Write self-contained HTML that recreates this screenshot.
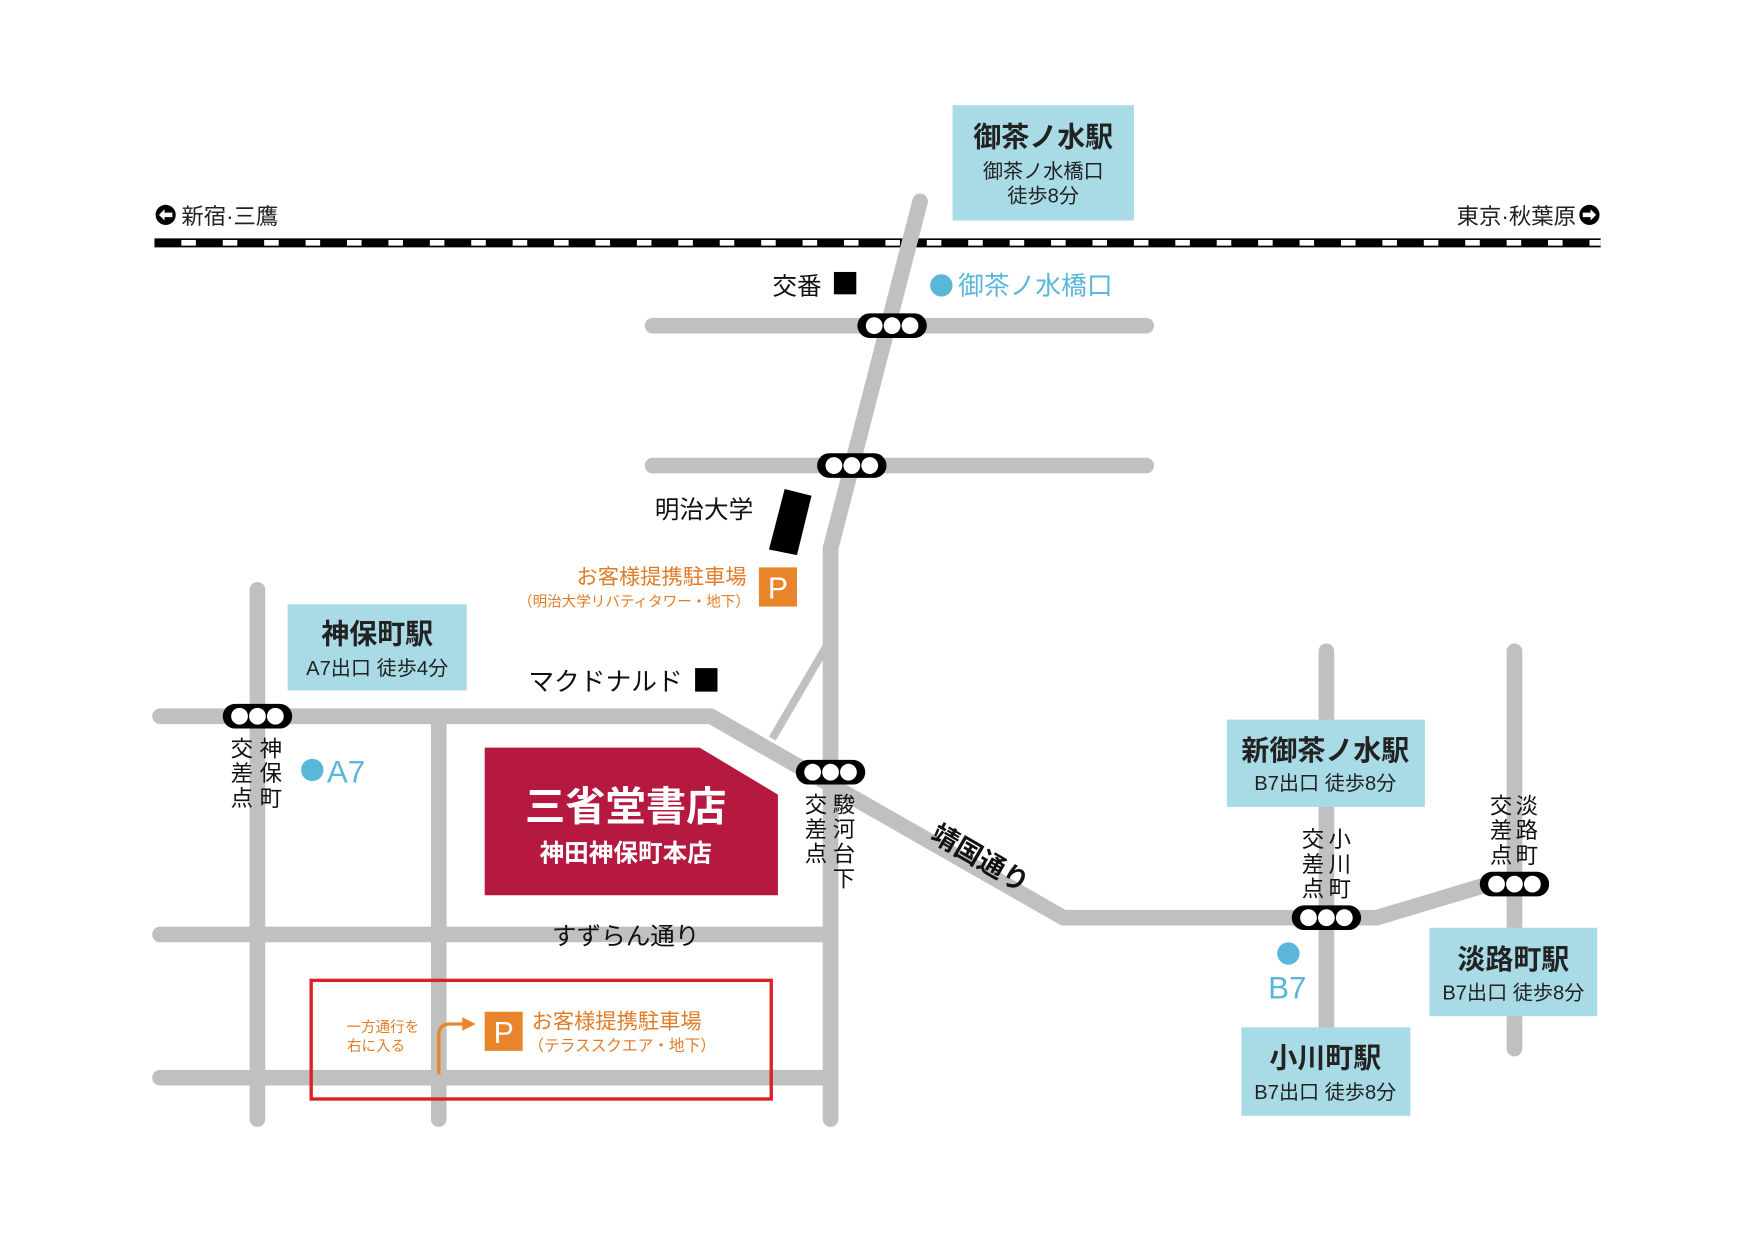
<!DOCTYPE html>
<html><head><meta charset="utf-8"><style>
html,body{margin:0;padding:0;background:#fff;}
svg{display:block;}
text{font-family:"Liberation Sans","Noto Sans CJK JP",sans-serif;}
.b{font-weight:bold;}
</style></head><body>
<svg width="1754" height="1240" viewBox="0 0 1567 1108" preserveAspectRatio="none" xmlns="http://www.w3.org/2000/svg">
<rect width="1567" height="1108" fill="#fff"/>
<!-- railway -->
<line x1="138" y1="217" x2="1430" y2="217" stroke="#000" stroke-width="8"/>
<line x1="138" y1="217" x2="1430" y2="217" stroke="#fff" stroke-width="5" stroke-dasharray="13 24" stroke-dashoffset="-24"/>
<!-- roads -->
<g stroke="#c0c0c0" stroke-width="14" stroke-linecap="round" fill="none">
<polyline points="822,180 742,490 742,1000"/>
<line x1="583" y1="291" x2="1024" y2="291"/>
<line x1="583" y1="416" x2="1024" y2="416"/>
<line x1="230" y1="527" x2="230" y2="1000"/>
<line x1="392" y1="640" x2="392" y2="1000"/>
<polyline points="143,640 635,640 950,820 1230,820 1330,790"/>
<line x1="143" y1="835" x2="742" y2="835"/>
<line x1="143" y1="963" x2="742" y2="963"/>
<line x1="1185" y1="582" x2="1185" y2="935"/>
<line x1="1353" y1="582" x2="1353" y2="937"/>
</g>
<line x1="690" y1="660" x2="738" y2="578" stroke="#c0c0c0" stroke-width="7"/>
<g fill="#000">
<rect x="766" y="280" width="62" height="22" rx="11"/>
<rect x="730" y="405" width="62" height="22" rx="11"/>
<rect x="199" y="629" width="62" height="22" rx="11"/>
<rect x="711" y="679" width="62" height="22" rx="11"/>
<rect x="1154" y="809" width="62" height="22" rx="11"/>
<rect x="1322" y="779" width="62" height="22" rx="11"/>
</g>
<g fill="#fff">
<circle cx="781" cy="291" r="7.5"/><circle cx="797" cy="291" r="7.5"/><circle cx="813" cy="291" r="7.5"/>
<circle cx="745" cy="416" r="7.5"/><circle cx="761" cy="416" r="7.5"/><circle cx="777" cy="416" r="7.5"/>
<circle cx="214" cy="640" r="7.5"/><circle cx="230" cy="640" r="7.5"/><circle cx="246" cy="640" r="7.5"/>
<circle cx="726" cy="690" r="7.5"/><circle cx="742" cy="690" r="7.5"/><circle cx="758" cy="690" r="7.5"/>
<circle cx="1169" cy="820" r="7.5"/><circle cx="1185" cy="820" r="7.5"/><circle cx="1201" cy="820" r="7.5"/>
<circle cx="1337" cy="790" r="7.5"/><circle cx="1353" cy="790" r="7.5"/><circle cx="1369" cy="790" r="7.5"/>
</g>
<!-- station boxes -->
<g fill="#a8dbe6">
<rect x="851" y="94" width="162" height="103"/>
<rect x="257" y="540" width="160" height="77"/>
<rect x="1096" y="643" width="177" height="78"/>
<rect x="1277" y="829" width="150" height="79"/>
<rect x="1109" y="918" width="151" height="79"/>
</g>
<g text-anchor="middle" fill="#222">
<text x="932" y="131" font-size="25" class="b">御茶ノ水駅</text>
<text x="932" y="159" font-size="18">御茶ノ水橋口</text>
<text x="932" y="181" font-size="18">徒歩8分</text>
<text x="337" y="575" font-size="25" class="b">神保町駅</text>
<text x="337" y="603" font-size="18">A7出口 徒歩4分</text>
<text x="1184" y="679" font-size="25" class="b">新御茶ノ水駅</text>
<text x="1184" y="706" font-size="18">B7出口 徒歩8分</text>
<text x="1352" y="866" font-size="25" class="b">淡路町駅</text>
<text x="1352" y="893" font-size="18">B7出口 徒歩8分</text>
<text x="1184" y="954" font-size="25" class="b">小川町駅</text>
<text x="1184" y="982" font-size="18">B7出口 徒歩8分</text>
</g>
<!-- rail labels -->
<circle cx="148" cy="192" r="9" fill="#000"/><path d="M142,192 l5,-5 v3 h7 v4 h-7 v3z" fill="#fff"/>
<text x="162" y="200" font-size="20" fill="#222">新宿·三鷹</text>
<text x="1408" y="200" font-size="20" fill="#222" text-anchor="end">東京·秋葉原</text>
<circle cx="1420" cy="192" r="9" fill="#000"/><path d="M1426,192 l-5,-5 v3 h-7 v4 h7 v3z" fill="#fff"/>
<!-- landmarks -->
<text x="690" y="263" font-size="22" fill="#111">交番</text>
<rect x="745" y="243" width="20" height="20" fill="#000"/>
<circle cx="841" cy="255" r="10" fill="#5bb7d9"/>
<text x="856" y="263" font-size="23" fill="#5bb7d9">御茶ノ水橋口</text>
<text x="585" y="463" font-size="22" fill="#111">明治大学</text>
<polygon points="701,437 725,443 712,496 687,491" fill="#000"/>
<text x="667" y="522" font-size="19" fill="#e07d28" text-anchor="end">お客様提携駐車場</text>
<text x="670" y="542" font-size="13" fill="#e07d28" text-anchor="end">（明治大学リバティタワー・地下）</text>
<rect x="678" y="507" width="34" height="35" fill="#e8852a"/>
<text x="695" y="535" font-size="27" fill="#fff" text-anchor="middle">P</text>
<text x="472" y="617" font-size="23" fill="#111">マクドナルド</text>
<rect x="621" y="597" width="20" height="21" fill="#000"/>
<!-- shop -->
<polygon points="433,668 625,668 695,710 695,800 433,800" fill="#b5193f"/>
<text x="559" y="733" font-size="36" fill="#fff" text-anchor="middle" class="b">三省堂書店</text>
<text x="559" y="770" font-size="22" fill="#fff" text-anchor="middle" class="b">神田神保町本店</text>
<g font-size="20" fill="#111" text-anchor="middle">
<text x="216" y="676">交</text><text x="216" y="698">差</text><text x="216" y="720">点</text>
<text x="242" y="676">神</text><text x="242" y="698">保</text><text x="242" y="720">町</text>
<text x="729" y="726">交</text><text x="729" y="748">差</text><text x="729" y="770">点</text>
<text x="754" y="726">駿</text><text x="754" y="748">河</text><text x="754" y="770">台</text><text x="754" y="792">下</text>
<text x="1173" y="757">交</text><text x="1173" y="779">差</text><text x="1173" y="801">点</text>
<text x="1197" y="757">小</text><text x="1197" y="779">川</text><text x="1197" y="801">町</text>
<text x="1341" y="727">交</text><text x="1341" y="749">差</text><text x="1341" y="771">点</text>
<text x="1364" y="727">淡</text><text x="1364" y="749">路</text><text x="1364" y="771">町</text>
</g>
<circle cx="279" cy="688" r="10" fill="#5bb7d9"/>
<text x="292" y="699" font-size="28" fill="#5bb7d9">A7</text>
<circle cx="1151" cy="852" r="10" fill="#5bb7d9"/>
<text x="1150" y="892" font-size="28" fill="#5bb7d9" text-anchor="middle">B7</text>
<text x="875" y="775" font-size="24" fill="#111" text-anchor="middle" transform="rotate(30 875 768)" class="b">靖国通り</text>
<text x="559" y="844" font-size="22" fill="#111" text-anchor="middle">すずらん通り</text>
<!-- bottom parking -->
<rect x="278" y="876" width="411" height="106" fill="none" stroke="#dd1f26" stroke-width="3"/>
<text x="342" y="922" font-size="13" fill="#e07d28" text-anchor="middle">一方通行を</text>
<text x="336" y="939" font-size="13" fill="#e07d28" text-anchor="middle">右に入る</text>
<path d="M392,960 V925 Q392,915 402,915 H414" stroke="#e8852a" stroke-width="3" fill="none"/>
<polygon points="413,909 425,915 413,921" fill="#e8852a"/>
<rect x="433" y="904" width="34" height="35" fill="#e8852a"/>
<text x="450" y="932" font-size="27" fill="#fff" text-anchor="middle">P</text>
<text x="475" y="919" font-size="19" fill="#e07d28">お客様提携駐車場</text>
<text x="472" y="939" font-size="14" fill="#e07d28">（テラススクエア・地下）</text>
</svg>
</body></html>
